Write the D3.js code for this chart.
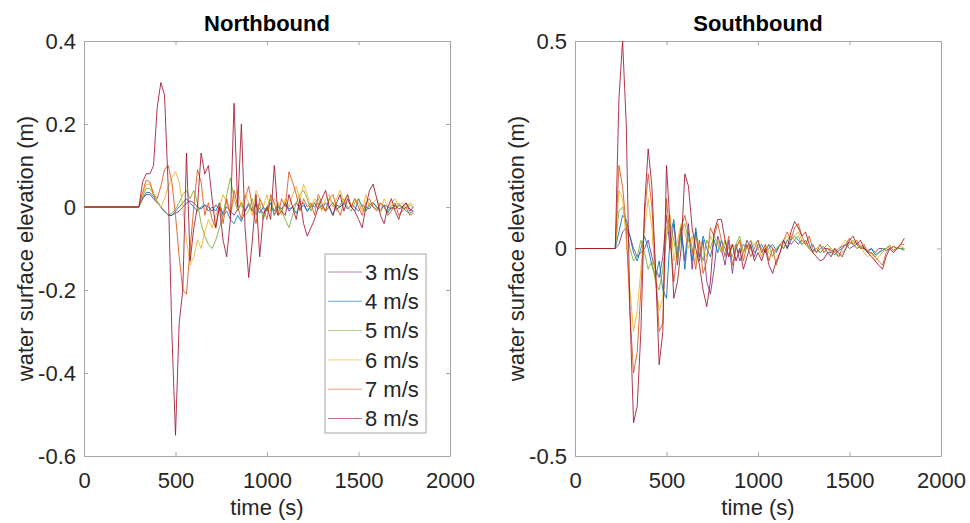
<!DOCTYPE html>
<html>
<head>
<meta charset="utf-8">
<script src="https://cdn.jsdelivr.net/npm/d3@7"></script>
<style>
  body { margin: 0; background: #fff; }
  svg { display: block; font-family: "Liberation Sans", Arial, sans-serif; }
</style>
</head>
<body>
<div id="chart"></div>
<script>
// Wave gauge records: water surface elevation vs time, one trace per wind speed
const speeds = ['3 m/s', '4 m/s', '5 m/s', '6 m/s', '7 m/s', '8 m/s'];
const speedColors = ['#7E2F8E', '#0072BD', '#77AC30', '#EDB120', '#D95319', '#A2142F'];
const xTicks = [0, 500, 1000, 1500, 2000];
const nbYTicks = [-0.6, -0.4, -0.2, 0, 0.2, 0.4];
const sbYTicks = [-0.5, 0, 0.5];

// Northbound sample times (s)
const nbTime = [0,
  300, 320, 340, 360, 380, 400, 420, 440, 460, 480,
  500, 520, 540, 560, 580, 600, 620, 640, 660, 680,
  700, 720, 740, 760, 780, 800, 820, 840, 860, 880,
  900, 920, 940, 960, 980, 1000, 1020, 1040, 1060, 1080,
  1100, 1120, 1140, 1160, 1180, 1200, 1220, 1240, 1260, 1280,
  1300, 1320, 1340, 1360, 1380, 1400, 1420, 1440, 1460, 1480,
  1500, 1520, 1540, 1560, 1580, 1600, 1620, 1640, 1660, 1680,
  1700, 1720, 1740, 1760, 1780, 1800];

const nb3 = [0,
  0, 0.02, 0.03, 0.03, 0.02, 0.01, 0.0, -0.01, -0.02, -0.02,
  -0.015, -0.01, 0.0, 0.01, 0.015, 0.01, 0.0, -0.005, 0.005, 0.0,
  -0.01, 0.005, -0.005, -0.015, 0.0, -0.01, -0.02, -0.005, 0.01, -0.01,
  0.005, -0.01, 0.01, -0.005, -0.015, 0.0, 0.01, -0.01, 0.005, -0.005,
  0.01, -0.01, 0.0, 0.01, -0.005, 0.005, -0.01, 0.0, 0.01, -0.005,
  0.005, -0.01, 0.0, 0.01, -0.005, 0.0, 0.01, -0.005, 0.005, 0.0,
  -0.01, 0.005, 0.0, -0.005, 0.01, 0.0, -0.01, 0.005, 0.0, -0.005,
  0.005, -0.005, 0.0, 0.01, -0.005, -0.01];
const nb4 = [0,
  0, 0.02, 0.035, 0.035, 0.025, 0.01, 0.0, -0.01, -0.02, -0.02,
  -0.01, 0.0, 0.01, 0.02, 0.01, 0.0, -0.01, 0.0, 0.005, -0.01,
  0.0, -0.01, 0.01, -0.02, -0.01, -0.03, -0.04, -0.02, -0.035, -0.01,
  0.01, -0.01, 0.005, -0.015, 0.0, -0.01, 0.01, -0.02, 0.0, -0.01,
  0.01, -0.005, 0.0, -0.015, 0.005, 0.01, -0.01, 0.005, 0.0, 0.01,
  -0.005, 0.01, 0.0, -0.02, 0.005, 0.0, 0.01, 0.03, 0.0, -0.01,
  0.02, 0.0, -0.01, 0.005, 0.01, 0.0, -0.01, 0.005, -0.015, 0.0,
  -0.005, 0.005, 0.0, -0.01, -0.015, -0.01];
const nb5 = [0,
  0, 0.025, 0.045, 0.045, 0.03, 0.015, 0.0, -0.01, -0.02, -0.015,
  -0.005, 0.01, 0.03, 0.04, 0.02, 0.04, 0.01, -0.04, -0.07, -0.09,
  -0.1, -0.08, -0.05, -0.02, 0.03, 0.07, 0.02, -0.01, 0.01, -0.02,
  -0.01, 0.02, -0.02, 0.01, -0.03, 0.0, 0.02, -0.02, 0.01, -0.01,
  -0.03, -0.05, -0.02, 0.01, 0.03, 0.04, 0.02, -0.01, 0.01, 0.02,
  0.0, -0.01, 0.02, 0.01, -0.01, 0.005, 0.02, 0.0, -0.01, 0.01,
  0.02, 0.0, -0.01, 0.01, 0.0, -0.005, 0.01, 0.0, -0.01, 0.005,
  0.0, 0.01, -0.005, 0.0, 0.005, 0.0];
const nb6 = [0,
  0, 0.03, 0.055, 0.055, 0.035, 0.01, 0.0, 0.02, 0.05, 0.07,
  0.085, 0.06, 0.0, -0.08, -0.14, -0.12, -0.08, -0.1, -0.06, -0.03,
  -0.05, -0.02, 0.0, 0.03, 0.01, -0.02, 0.02, 0.04, 0.0, 0.03,
  0.01, -0.02, 0.04, 0.02, 0.0, 0.03, -0.01, 0.02, 0.01, -0.02,
  0.02, 0.0, 0.03, 0.05, 0.02, 0.055, 0.03, 0.0, 0.02, 0.01,
  -0.01, 0.02, 0.03, 0.0, 0.02, 0.04, 0.01, 0.03, 0.0, 0.02,
  0.01, -0.01, 0.03, 0.0, 0.01, 0.02, -0.01, 0.02, 0.0, 0.01,
  0.02, 0.0, 0.01, -0.005, 0.01, 0.005];
const nb7 = [0,
  0, 0.035, 0.065, 0.06, 0.03, 0.02, 0.05, 0.09, 0.1, 0.06,
  -0.02, -0.12, -0.2, -0.21, -0.1, 0.0, 0.09, 0.06, -0.02, 0.01,
  -0.03, -0.05, 0.01, -0.04, 0.02, -0.02, 0.04, 0.0, -0.03, 0.02,
  0.05, 0.0, -0.04, 0.02, 0.0, -0.03, 0.03, 0.01, -0.02, 0.02,
  0.0, 0.085, 0.06, 0.03, -0.01, 0.02, 0.0, 0.01, -0.02, 0.03,
  0.01, -0.01, 0.02, 0.03, 0.0, -0.02, 0.01, 0.03, 0.0, 0.02,
  0.0, -0.02, 0.01, 0.02, 0.0, -0.01, 0.01, 0.0, -0.02, -0.01,
  0.01, -0.02, -0.01, 0.0, -0.02, -0.015];
const nb8 = [0,
  0, 0.06, 0.08, 0.08, 0.1, 0.24, 0.3, 0.27, 0.05, -0.3,
  -0.55, -0.28, -0.2, 0.13, -0.13, -0.05, 0.0, 0.13, 0.08, 0.1,
  0.02, -0.05, 0.0, -0.08, -0.12, -0.03, 0.25, 0.0, 0.2, -0.05,
  -0.17, -0.08, 0.03, -0.12, -0.02, 0.0, -0.03, 0.1, -0.02, -0.01,
  -0.02, 0.03, 0.0, -0.03, 0.02, -0.04, -0.07, -0.05, -0.03, 0.0,
  0.02, 0.04, 0.0, -0.02, 0.01, 0.03, -0.01, 0.02, 0.0, -0.01,
  -0.03, -0.05, 0.0, 0.04, 0.055, 0.02, -0.02, -0.04, 0.0, 0.02,
  -0.01, -0.03, 0.0, 0.01, -0.01, 0.0];

// Southbound sample times (s)
const sbTime = [0,
  200, 220, 240, 260, 280, 300, 320, 340, 360, 380,
  400, 420, 440, 460, 480, 500, 520, 540, 560, 580,
  600, 620, 640, 660, 680, 700, 720, 740, 760, 780,
  800, 820, 840, 860, 880, 900, 920, 940, 960, 980,
  1000, 1020, 1040, 1060, 1080, 1100, 1120, 1140, 1160, 1180,
  1200, 1220, 1240, 1260, 1280, 1300, 1320, 1340, 1360, 1380,
  1400, 1420, 1440, 1460, 1480, 1500, 1520, 1540, 1560, 1580,
  1600, 1620, 1640, 1660, 1680, 1700, 1720, 1740, 1760, 1780,
  1800];

const sb3 = [0,
  0, 0.0, 0.01, 0.04, 0.05, 0.03, 0.0, -0.02, -0.01, 0.0,
  0.02, -0.02, -0.05, -0.07, -0.02, 0.08, 0.0, 0.06, -0.04, 0.05,
  -0.03, 0.06, -0.05, 0.04, -0.03, 0.02, -0.08, -0.11, -0.05, 0.03,
  0.0, -0.04, 0.02, -0.06, 0.01, -0.03, -0.01, 0.02, 0.0, -0.02,
  0.01, 0.0, -0.01, 0.01, 0.0, -0.01, 0.01, 0.0, 0.02, 0.01,
  0.02, 0.01, 0.02, 0.01, 0.0, -0.005, 0.0, -0.01, 0.0, 0.0,
  -0.005, -0.01, 0.0, 0.005, 0.01, 0.0, 0.005, 0.01, 0.0, 0.0,
  -0.005, 0.0, -0.01, 0.0, 0.0, -0.005, 0.0, 0.005, 0.0, 0.0,
  0.0];
const sb4 = [0,
  0, 0.0, 0.04, 0.08, 0.07, 0.03, -0.01, -0.03, 0.0, 0.03,
  0.0, -0.04, -0.07, -0.03, -0.1, -0.12, 0.03, 0.07, -0.02, 0.05,
  -0.05, 0.04, -0.03, 0.05, -0.02, 0.03, 0.0, -0.02, 0.02, -0.01,
  0.02, 0.0, -0.02, 0.01, 0.0, -0.01, 0.01, 0.0, 0.02, -0.01,
  0.0, 0.01, -0.01, 0.0, 0.01, -0.005, 0.01, 0.02, 0.0, 0.02,
  0.03, 0.02, 0.01, 0.02, 0.0, 0.01, -0.01, 0.0, 0.005, -0.01,
  -0.01, -0.015, -0.005, 0.0, 0.01, 0.015, 0.01, 0.0, 0.005, 0.0,
  -0.01, 0.0, -0.015, -0.01, -0.005, 0.0, 0.005, -0.005, 0.0, 0.0,
  -0.005];
const sb5 = [0,
  0, 0.0, 0.09, 0.1, 0.06, 0.0, -0.03, -0.02, 0.02, -0.01,
  -0.05, -0.03, -0.08, -0.1, -0.05, 0.03, 0.06, 0.02, -0.03, 0.04,
  0.06, 0.02, -0.01, 0.03, 0.0, -0.03, 0.02, 0.0, 0.03, 0.01,
  -0.01, 0.02, 0.0, -0.02, 0.01, 0.03, -0.01, 0.01, 0.0, 0.01,
  0.02, -0.01, 0.0, 0.01, -0.02, 0.0, 0.01, 0.0, 0.02, 0.03,
  0.02, 0.03, 0.01, 0.02, 0.0, -0.01, 0.0, -0.01, 0.0, 0.01,
  0.0, -0.01, -0.02, -0.01, 0.0, 0.01, 0.02, 0.01, 0.0, 0.005,
  -0.01, -0.01, -0.02, -0.01, 0.0, 0.0, 0.005, -0.005, 0.0, 0.0,
  0.0];
const sb6 = [0,
  0, 0.0, 0.14, 0.12, 0.02, -0.1, -0.2, -0.15, -0.05, 0.05,
  0.12, 0.05, -0.08, -0.15, -0.12, 0.05, 0.08, -0.03, 0.02, 0.06,
  0.04, 0.0, 0.03, -0.03, 0.02, 0.0, -0.02, 0.03, 0.01, 0.02,
  -0.01, 0.02, -0.02, 0.01, 0.0, 0.02, -0.01, 0.0, 0.02, 0.01,
  0.0, -0.02, 0.01, -0.01, -0.02, 0.0, 0.01, 0.02, 0.03, 0.02,
  0.03, 0.04, 0.02, 0.01, 0.0, -0.01, 0.0, 0.01, -0.01, 0.0,
  0.0, -0.01, 0.0, 0.01, 0.02, 0.01, 0.02, 0.0, 0.01, -0.01,
  -0.02, -0.01, -0.03, -0.02, -0.01, 0.0, 0.01, -0.005, 0.0, 0.005,
  0.0];
const sb7 = [0,
  0, 0.0, 0.2, 0.15, 0.05, -0.15, -0.3, -0.25, -0.1, 0.08,
  0.18, 0.1, -0.05, -0.2, -0.18, 0.12, 0.02, -0.08, 0.0, 0.05,
  0.08, 0.04, 0.0, -0.05, 0.02, -0.06, -0.03, 0.05, 0.03, 0.06,
  0.02, -0.02, 0.03, -0.04, 0.0, 0.02, -0.03, 0.01, -0.02, 0.0,
  0.02, -0.01, 0.01, -0.03, 0.0, -0.04, -0.01, 0.02, 0.04, 0.02,
  0.05, 0.06, 0.03, 0.01, 0.03, 0.0, -0.01, 0.01, -0.01, 0.0,
  -0.01, 0.0, -0.02, 0.0, 0.01, 0.025, 0.01, 0.02, 0.0, 0.01,
  -0.01, -0.01, -0.02, -0.03, -0.04, -0.01, 0.0, 0.005, 0.0, 0.01,
  0.01];
const sb8 = [0,
  0, 0.0, 0.36, 0.5, 0.3, -0.15, -0.42, -0.38, -0.2, 0.1,
  0.24, 0.15, -0.05, -0.28, -0.2, 0.2, 0.05, -0.12, -0.08, 0.0,
  0.18, 0.15, 0.05, 0.0, -0.04, -0.1, -0.14, -0.08, 0.04, 0.07,
  0.07, 0.02, -0.02, 0.01, -0.03, 0.0, -0.05, -0.02, 0.01, -0.03,
  -0.01, -0.03, 0.0, -0.04, -0.06, -0.03, -0.01, 0.02, 0.0, 0.04,
  0.065, 0.05, 0.03, 0.04, 0.01, -0.01, -0.02, -0.03, -0.025, -0.01,
  -0.02, 0.0, -0.01, -0.02, 0.0, 0.02, 0.03, 0.01, 0.02, 0.0,
  -0.01, -0.02, -0.03, -0.04, -0.05, -0.02, 0.0, -0.01, 0.0, 0.01,
  0.025];

const panels = [
  { title: 'Northbound', time: nbTime, series: [nb3, nb4, nb5, nb6, nb7, nb8],
    yDomain: [-0.6, 0.4], yTicks: nbYTicks, left: 84, legend: true },
  { title: 'Southbound', time: sbTime, series: [sb3, sb4, sb5, sb6, sb7, sb8],
    yDomain: [-0.5, 0.5], yTicks: sbYTicks, left: 575, legend: false }
];

const width = 970, height = 523;
const plotTop = 41, plotW = 366, plotH = 415;
const axisColor = '#a6a6a6';
const labelColor = '#262626';
const fmt = d => String(d);  // keep hyphen-minus like the original

const svg = d3.select('#chart')
  .append('svg')
  .attr('width', width)
  .attr('height', height);

panels.forEach(p => {
  const g = svg.append('g').attr('transform', `translate(${p.left},${plotTop})`);

  const x = d3.scaleLinear().domain([0, 2000]).range([0, plotW]);
  const y = d3.scaleLinear().domain(p.yDomain).range([plotH, 0]);

  // axes, ticks pointing inward on all four sides
  g.append('g')
    .attr('transform', `translate(0,${plotH})`)
    .call(d3.axisBottom(x).tickValues(xTicks).tickFormat(fmt)
      .tickSizeInner(-4).tickSizeOuter(0).tickPadding(16));
  g.append('g')
    .call(d3.axisTop(x).tickValues(xTicks).tickFormat('')
      .tickSizeInner(-4).tickSizeOuter(0));
  g.append('g')
    .call(d3.axisLeft(y).tickValues(p.yTicks).tickFormat(fmt)
      .tickSizeInner(-4).tickSizeOuter(0).tickPadding(8));
  g.append('g')
    .attr('transform', `translate(${plotW},0)`)
    .call(d3.axisRight(y).tickValues(p.yTicks).tickFormat('')
      .tickSizeInner(-4).tickSizeOuter(0));

  g.selectAll('.domain, .tick line').attr('stroke', axisColor);
  g.selectAll('.tick text')
    .attr('fill', labelColor)
    .style('font-size', '22px')
    .style('font-family', '"Liberation Sans", Arial, sans-serif');

  // traces, 3 m/s drawn first so 8 m/s sits on top
  const line = d3.line().x(d => x(d[0])).y(d => y(d[1]));
  p.series.forEach((vals, i) => {
    const pts = p.time.map((t, k) => [t, vals[k]]).filter(d => d[1] !== undefined);
    g.append('path')
      .datum(pts)
      .attr('fill', 'none')
      .attr('stroke', speedColors[i])
      .attr('stroke-width', 1)
      .attr('stroke-opacity', 0.85)
      .attr('stroke-linejoin', 'round')
      .attr('d', line);
  });

  // title and axis labels
  g.append('text')
    .attr('x', plotW / 2)
    .attr('y', -10)
    .attr('text-anchor', 'middle')
    .style('font-size', '22px')
    .style('font-weight', 'bold')
    .text(p.title);

  g.append('text')
    .attr('x', plotW / 2)
    .attr('y', plotH + 59)
    .attr('text-anchor', 'middle')
    .attr('fill', labelColor)
    .style('font-size', '22px')
    .text('time (s)');

  g.append('text')
    .attr('transform', `translate(${-51},${plotH / 2}) rotate(-90)`)
    .attr('text-anchor', 'middle')
    .attr('fill', labelColor)
    .style('font-size', '22px')
    .text('water surface elevation (m)');

  if (p.legend) {
    const lg = svg.append('g').attr('transform', 'translate(325,254)');
    lg.append('rect')
      .attr('width', 101)
      .attr('height', 179)
      .attr('fill', '#fff')
      .attr('stroke', axisColor);
    speeds.forEach((s, i) => {
      const ly = 18 + i * 29.3;
      lg.append('line')
        .attr('x1', 3).attr('x2', 37)
        .attr('y1', ly).attr('y2', ly)
        .attr('stroke', speedColors[i])
        .attr('stroke-opacity', 0.6);
      lg.append('text')
        .attr('x', 40)
        .attr('y', ly)
        .attr('dy', '0.35em')
        .attr('fill', labelColor)
        .style('font-size', '22px')
        .text(s);
    });
  }
});
</script>
</body>
</html>
